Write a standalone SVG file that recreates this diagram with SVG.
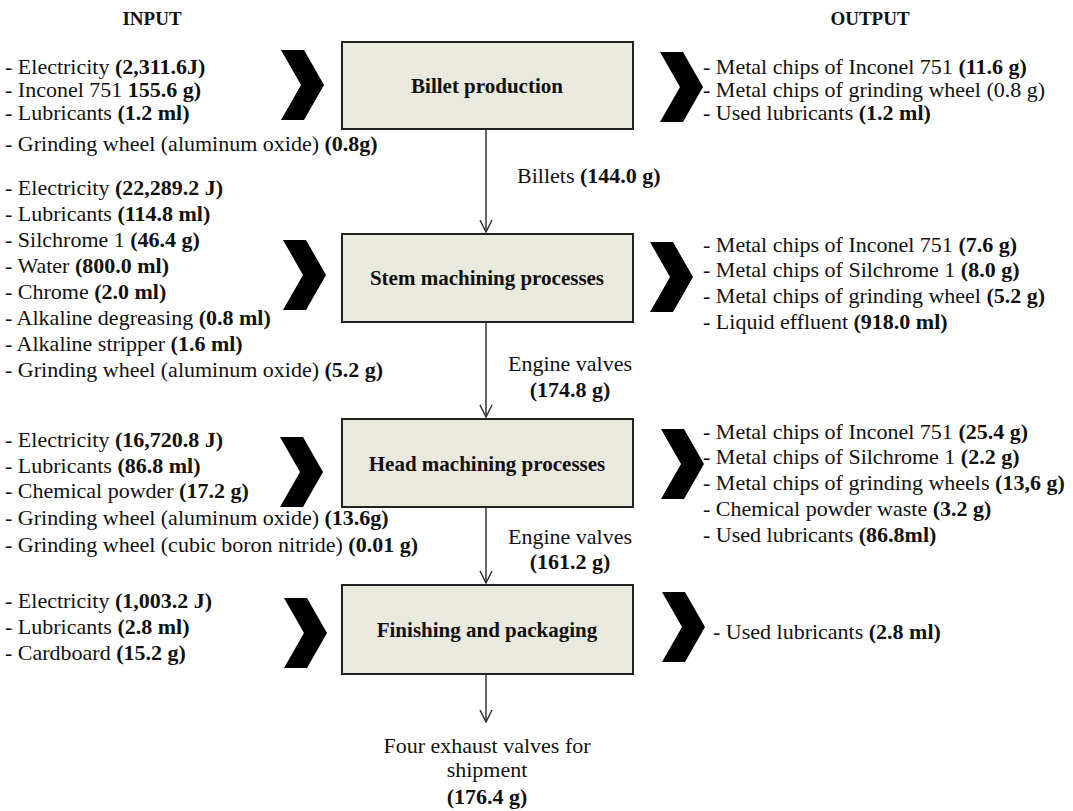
<svg xmlns="http://www.w3.org/2000/svg" width="1073" height="811" viewBox="0 0 1073 811">
<style>
text{font-family:"Liberation Serif","Times New Roman",serif;font-size:22px;fill:#111}
.b{font-weight:bold}
.h{font-weight:bold;font-size:19px}
.lbl{font-weight:bold;font-size:21px}
.box{fill:#e9e9dd;stroke:#222;stroke-width:2}
.con{stroke:#333;stroke-width:1.5;fill:none}
.chev{fill:#000}
</style>
<defs>
<path id="chev" d="M0,0 H23 L43,35 L23,70 H0 L20,35 Z"/>
<marker id="arr" markerUnits="userSpaceOnUse" viewBox="0 0 14 14" refX="7" refY="13" markerWidth="14" markerHeight="14" orient="0">
<path d="M1,1 L7,13 L13,1" fill="none" stroke="#333" stroke-width="1.5"/>
</marker>
</defs>
<rect width="1073" height="811" fill="#fff"/>
<text class="h" x="152" y="25" text-anchor="middle">INPUT</text>
<text class="h" x="870" y="25" text-anchor="middle">OUTPUT</text>

<g id="connectors">
<line class="con" x1="486" y1="130" x2="486" y2="232" marker-end="url(#arr)"/>
<line class="con" x1="486" y1="322" x2="486" y2="417" marker-end="url(#arr)"/>
<line class="con" x1="486" y1="508" x2="486" y2="583" marker-end="url(#arr)"/>
<line class="con" x1="486" y1="675" x2="486" y2="722" marker-end="url(#arr)"/>
<text x="517" y="183">Billets <tspan class="b">(144.0 g)</tspan></text>
<text x="570" y="371" text-anchor="middle">Engine valves</text>
<text x="570" y="397" text-anchor="middle" class="b">(174.8 g)</text>
<text x="570" y="544" text-anchor="middle">Engine valves</text>
<text x="570" y="569" text-anchor="middle" class="b">(161.2 g)</text>
</g>

<g id="billet">
<rect class="box" x="342" y="42" width="291" height="87"/>
<text class="lbl" x="487" y="93" text-anchor="middle">Billet production</text>
<use href="#chev" class="chev" x="281" y="50"/>
<use href="#chev" class="chev" x="660" y="52"/>
<text x="5" y="74">- Electricity <tspan class="b">(2,311.6J)</tspan></text>
<text x="5" y="97">- Inconel 751 <tspan class="b">155.6 g)</tspan></text>
<text x="5" y="120">- Lubricants <tspan class="b">(1.2 ml)</tspan></text>
<text x="5" y="151">- Grinding wheel (aluminum oxide) <tspan class="b">(0.8g)</tspan></text>
<text x="703" y="74">- Metal chips of Inconel 751 <tspan class="b">(11.6 g)</tspan></text>
<text x="703" y="97">- Metal chips of grinding wheel (0.8 g)</text>
<text x="703" y="120">- Used lubricants <tspan class="b">(1.2 ml)</tspan></text>
</g>

<g id="stem">
<rect class="box" x="342" y="234" width="291" height="88"/>
<text class="lbl" x="487" y="285" text-anchor="middle">Stem machining processes</text>
<use href="#chev" class="chev" x="283" y="240"/>
<use href="#chev" class="chev" x="650" y="242"/>
<text x="5" y="195">- Electricity <tspan class="b">(22,289.2 J)</tspan></text>
<text x="5" y="221">- Lubricants <tspan class="b">(114.8 ml)</tspan></text>
<text x="5" y="247">- Silchrome 1 <tspan class="b">(46.4 g)</tspan></text>
<text x="5" y="273">- Water <tspan class="b">(800.0 ml)</tspan></text>
<text x="5" y="299">- Chrome <tspan class="b">(2.0 ml)</tspan></text>
<text x="5" y="325">- Alkaline degreasing <tspan class="b">(0.8 ml)</tspan></text>
<text x="5" y="351">- Alkaline stripper <tspan class="b">(1.6 ml)</tspan></text>
<text x="5" y="377">- Grinding wheel (aluminum oxide) <tspan class="b">(5.2 g)</tspan></text>
<text x="703" y="252">- Metal chips of Inconel 751 <tspan class="b">(7.6 g)</tspan></text>
<text x="703" y="277">- Metal chips of Silchrome 1 <tspan class="b">(8.0 g)</tspan></text>
<text x="703" y="303">- Metal chips of grinding wheel <tspan class="b">(5.2 g)</tspan></text>
<text x="703" y="329">- Liquid effluent <tspan class="b">(918.0 ml)</tspan></text>
</g>

<g id="head">
<rect class="box" x="342" y="419" width="291" height="88"/>
<text class="lbl" x="487" y="471" text-anchor="middle">Head machining processes</text>
<use href="#chev" class="chev" x="280" y="437"/>
<use href="#chev" class="chev" x="661" y="429"/>
<text x="5" y="447">- Electricity <tspan class="b">(16,720.8 J)</tspan></text>
<text x="5" y="473">- Lubricants <tspan class="b">(86.8 ml)</tspan></text>
<text x="5" y="498">- Chemical powder <tspan class="b">(17.2 g)</tspan></text>
<text x="5" y="525">- Grinding wheel (aluminum oxide) <tspan class="b">(13.6g)</tspan></text>
<text x="5" y="552">- Grinding wheel (cubic boron nitride) <tspan class="b">(0.01 g)</tspan></text>
<text x="703" y="439">- Metal chips of Inconel 751 <tspan class="b">(25.4 g)</tspan></text>
<text x="703" y="464">- Metal chips of Silchrome 1 <tspan class="b">(2.2 g)</tspan></text>
<text x="703" y="490">- Metal chips of grinding wheels <tspan class="b">(13,6 g)</tspan></text>
<text x="703" y="516">- Chemical powder waste <tspan class="b">(3.2 g)</tspan></text>
<text x="703" y="542">- Used lubricants <tspan class="b">(86.8ml)</tspan></text>
</g>

<g id="finishing">
<rect class="box" x="342" y="585" width="291" height="89"/>
<text class="lbl" x="487" y="637" text-anchor="middle">Finishing and packaging</text>
<use href="#chev" class="chev" x="284" y="598"/>
<use href="#chev" class="chev" x="662" y="592"/>
<text x="5" y="608">- Electricity <tspan class="b">(1,003.2 J)</tspan></text>
<text x="5" y="634">- Lubricants <tspan class="b">(2.8 ml)</tspan></text>
<text x="5" y="660">- Cardboard <tspan class="b">(15.2 g)</tspan></text>
<text x="713" y="639">- Used lubricants <tspan class="b">(2.8 ml)</tspan></text>
</g>

<g id="shipment">
<text x="487" y="753" text-anchor="middle">Four exhaust valves for</text>
<text x="487" y="777" text-anchor="middle">shipment</text>
<text x="487" y="804" text-anchor="middle" class="b">(176.4 g)</text>
</g>
</svg>
